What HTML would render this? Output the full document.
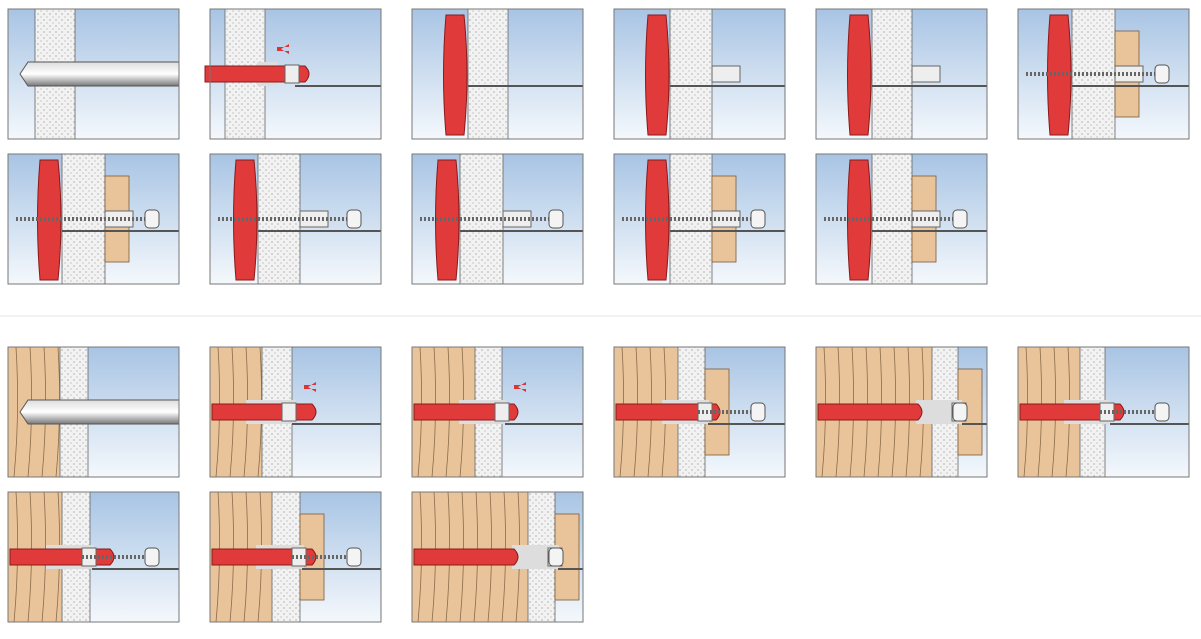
<!DOCTYPE html>
<html><head><meta charset="utf-8"><style>
body{margin:0;background:#fff;width:1201px;height:634px;overflow:hidden}
</style></head><body>
<svg id="s" width="1201" height="634" xmlns="http://www.w3.org/2000/svg">
<defs>
<linearGradient id="bg" x1="0" y1="0" x2="0" y2="1"><stop offset="0" stop-color="#a8c4e4"/><stop offset="1" stop-color="#f4f8fc"/></linearGradient>
<pattern id="dots" width="6" height="6" patternUnits="userSpaceOnUse"><rect width="6" height="6" fill="#f2f2f2"/><circle cx="2" cy="2" r="0.9" fill="#bdbdbd"/><circle cx="5" cy="5" r="0.9" fill="#cfcfcf"/></pattern>
<linearGradient id="steel" x1="0" y1="0" x2="0" y2="1"><stop offset="0" stop-color="#ddd"/><stop offset="0.5" stop-color="#fff"/><stop offset="1" stop-color="#777"/></linearGradient>
</defs>
<line x1="0" y1="316" x2="1201" y2="316" stroke="#e4e4e4"/>
</svg>
<script>
const s=document.getElementById('s');let h='';
const W=171,H=130;
// [x,y,wall offset,wall width,woodEnd offset,plank offset,dowel type, extra]
const P=[
[8,9,27,40,0,0,'drill'],[210,9,15,40,0,0,'h'],[412,9,56,40,0,0,'v3'],[614,9,56,42,0,0,'v'],[816,9,56,40,0,0,'v'],[1018,9,54,43,0,97,'vs'],
[8,154,54,43,0,97,'vs'],[210,154,48,42,0,0,'vs'],[412,154,48,43,0,0,'vs'],[614,154,56,42,0,98,'vs'],[816,154,56,40,0,96,'vs'],
[8,347,52,28,52,0,'drill'],[210,347,52,30,52,0,'h'],[412,347,63,27,63,0,'h'],[614,347,64,27,64,91,'hs'],[816,347,116,26,116,142,'hs'],[1018,347,62,25,62,0,'hs'],
[8,492,54,28,54,0,'hs'],[210,492,62,28,62,90,'hs'],[412,492,116,27,116,143,'hs']];
for(const [x,y,wo,ww,wd,pl,t] of P){
 h+=`<rect x="${x}" y="${y}" width="${W}" height="${H}" fill="url(#bg)"/>`;
 if(wd){h+=`<rect x="${x}" y="${y}" width="${wd}" height="${H}" fill="#e9c49a"/>`;
  for(let i=8;i<wd;i+=14)h+=`<path d="M${x+i} ${y} q4 ${H/2} -2 ${H}" stroke="#8a6a4a" fill="none" stroke-width="0.8"/>`;}
 h+=`<rect x="${x+wo}" y="${y}" width="${ww}" height="${H}" fill="url(#dots)" stroke="#666" stroke-width="0.8"/>`;
 if(pl)h+=`<rect x="${x+pl}" y="${y+22}" width="24" height="${H-44}" fill="#e9c49a" stroke="#7a5a3a" stroke-width="0.8"/>`;
 const cy=y+H/2;
 if(t=='drill')h+=`<path d="M${x+12} ${cy} l8 -12 H${x+W} v24 H${x+20}z" fill="url(#steel)" stroke="#555"/>`;
 if(t=='h'||t=='hs'){h+=`<rect x="${x+(wd?wd-8:wo+ww)-8}" y="${cy-12}" width="${(wd?ww:0)+20}" height="24" fill="#ddd"/>`;
  h+=`<path d="M${x+(wd?2:wo-20)} ${cy-8} h100 q8 8 0 16 h-100z" fill="#e03a3a" stroke="#8a1a1a"/>`;
  h+=`<rect x="${x+(wd?wd:wo+ww)+20}" y="${cy-9}" width="14" height="18" fill="#eee" stroke="#666"/>`;
  h+=`<line x1="${x+(wd?wd:wo+ww)+30}" y1="${cy+12}" x2="${x+W}" y2="${cy+12}" stroke="#555" stroke-width="2"/>`;
  if(t=='h')h+=`<path d="M${x+wo+ww+12} ${y+38} h12 v-3 l-8 5 8 5 v-3 h-12" fill="#d33"/>`;}
 if(t.startsWith('v')){const dx=x+wo-22;h+=`<path d="M${dx} ${y+6} h18 q6 60 0 120 h-18 q-5 -60 0 -120z" fill="#e03a3a" stroke="#8a1a1a"/>`;
  h+=`<rect x="${x+wo+ww}" y="${cy-8}" width="${t=='v3'?0:28}" height="16" fill="#eee" stroke="#666"/>`;
  h+=`<line x1="${x+wo}" y1="${cy+12}" x2="${x+W}" y2="${cy+12}" stroke="#555" stroke-width="2"/>`;}
 if(t=='vs'||t=='hs'){h+=`<line x1="${x+(t=='vs'?8:wd+20)}" y1="${cy}" x2="${x+W-30}" y2="${cy}" stroke="#666" stroke-width="4" stroke-dasharray="2 2"/>`;
  h+=`<rect x="${x+W-34}" y="${cy-9}" width="14" height="18" rx="4" fill="#f4f4f4" stroke="#555"/>`;}
 h+=`<rect x="${x}" y="${y}" width="${W}" height="${H}" fill="none" stroke="#777"/>`;
}
s.insertAdjacentHTML('beforeend',h);
</script>
</body></html>
